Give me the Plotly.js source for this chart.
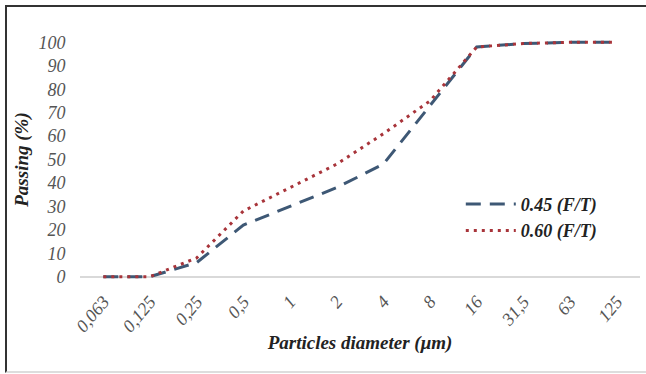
<!DOCTYPE html>
<html>
<head>
<meta charset="utf-8">
<script src="https://cdn.plot.ly/plotly-3.0.1.min.js"></script>
<style>
  html, body { margin: 0; padding: 0; background: #fff; }
  #wrap { position: relative; width: 646px; height: 374px; overflow: hidden; }
  #chart { position: absolute; left: 0; top: 0; width: 646px; height: 374px; }
  #frame { position: absolute; left: 5px; top: 5px; width: 660px; height: 364px;
           border-left: 2px solid #333; border-top: 2px solid #333; border-bottom: 2px solid #ddd;
           pointer-events: none; }
</style>
</head>
<body>
<div id="wrap">
  <div id="chart"></div>
  <div id="frame"></div>
</div>
<script>
const categories = ["0,063", "0,125", "0,25", "0,5", "1", "2", "4", "8", "16", "31,5", "63", "125"];
const seriesNames = ["0.45 (F/T)", "0.60 (F/T)"];
const passing045 = [0, 0, 6, 22, 30, 38, 48, 73, 98, 99.5, 100, 100];
const passing060 = [0, 0, 8, 28, 38, 48, 61, 75, 98, 99.5, 100, 100];
const yTicks = [0, 10, 20, 30, 40, 50, 60, 70, 80, 90, 100];

const serif = "Liberation Serif, Times New Roman, serif";

const traces = [
  {
    x: categories, y: passing045, name: seriesNames[0], type: "scatter", mode: "lines",
    line: { color: "#3E5875", width: 3, dash: "15px,9px" }
  },
  {
    x: categories, y: passing060, name: seriesNames[1], type: "scatter", mode: "lines",
    line: { color: "#A8343A", width: 3, dash: "3px,5px" }
  }
];

const layout = {
  width: 646, height: 374,
  margin: { l: 80, r: 6, t: 40, b: 95, autoexpand: false },
  paper_bgcolor: "#fff", plot_bgcolor: "#fff",
  showlegend: true,
  legend: {
    x: 0.68, y: 0.39, xanchor: "left", yanchor: "top",
    font: { family: serif, size: 18, color: "#222", style: "italic", weight: "bold" },
    bgcolor: "rgba(0,0,0,0)", tracegroupgap: 0, itemwidth: 50
  },
  xaxis: {
    type: "category",
    range: [-0.5, 11.5],
    automargin: false,
    showgrid: false, showline: false, zeroline: false,
    ticks: "outside", ticklen: 4, tickcolor: "rgba(0,0,0,0)",
    tickangle: -50,
    tickfont: { family: serif, size: 18, color: "#555", style: "italic" },
    title: { text: "Particles diameter (μm)", standoff: 0,
             font: { family: serif, size: 19, color: "#222", style: "italic", weight: "bold" } }
  },
  yaxis: {
    range: [-1, 101],
    automargin: false,
    tickvals: yTicks,
    showgrid: false, showline: false,
    zeroline: true, zerolinecolor: "#D9D9D9", zerolinewidth: 2,
    ticks: "outside", ticklen: 10, tickcolor: "rgba(0,0,0,0)",
    tickfont: { family: serif, size: 18, color: "#555", style: "italic" },
    title: { text: "Passing (%)", standoff: 4,
             font: { family: serif, size: 19, color: "#222", style: "italic", weight: "bold" } }
  }
};

Plotly.newPlot("chart", traces, layout, { displayModeBar: false, staticPlot: true });
</script>
</body>
</html>
